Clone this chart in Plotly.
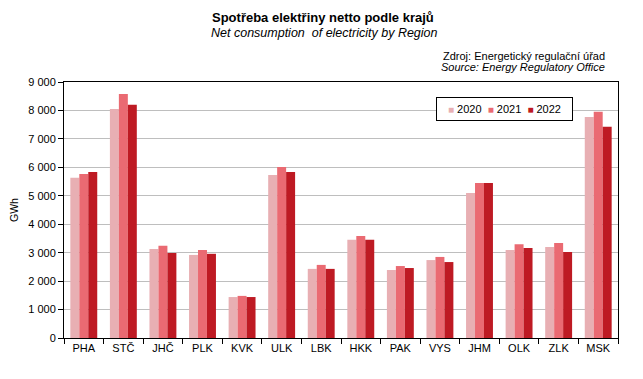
import plotly.graph_objects as go

regions = ["PHA", "STČ", "JHČ", "PLK", "KVK", "ULK", "LBK", "HKK", "PAK", "VYS", "JHM", "OLK", "ZLK", "MSK"]
v2020 = [5630, 8050, 3130, 2920, 1440, 5730, 2430, 3450, 2390, 2740, 5100, 3090, 3200, 7770]
v2021 = [5770, 8580, 3240, 3090, 1480, 6010, 2570, 3590, 2530, 2850, 5450, 3300, 3340, 7950]
v2022 = [5840, 8200, 2990, 2960, 1440, 5840, 2430, 3450, 2460, 2670, 5450, 3160, 3020, 7430]
years = ["2020", "2021", "2022"]
colors = ["#E8AFB3", "#EA6A72", "#BE1A23"]

FONT = "Liberation Sans, Arial, sans-serif"
OFF = 8  # default body margin of the page
W, H = 643 - OFF, 379 - OFF
L, T = 64 - OFF, 82 - OFF
R = W - (618 - OFF)
B = H - (338 - OFF)

fig = go.Figure()
for name, vals, c in zip(years, [v2020, v2021, v2022], colors):
    fig.add_trace(go.Bar(x=regions, y=vals, name=name, showlegend=False,
                         marker=dict(color=c, line=dict(width=0))))

fig.update_layout(
    width=W, height=H,
    margin=dict(l=L, r=R, t=T, b=B),
    paper_bgcolor="white", plot_bgcolor="white",
    font=dict(family=FONT, size=11, color="black"),
    barmode="group", bargap=0.32, bargroupgap=0,
    separators=", ",
    xaxis=dict(showline=True, linecolor="black", linewidth=1, mirror=True,
               ticks="outside", tickson="boundaries", ticklen=5, tickcolor="black",
               tickfont=dict(size=11), automargin=False),
    yaxis=dict(range=[0, 9000], dtick=1000, tickformat=",d",
               showgrid=True, gridcolor="#BEBEBE", gridwidth=1,
               showline=True, linecolor="black", linewidth=1, mirror=True,
               ticks="outside", ticklen=5, tickcolor="black",
               tickfont=dict(size=11), automargin=False,
               title=dict(text="GWh", font=dict(size=10.5), standoff=8)),
)

def px2paper(x, y):
    x -= OFF
    y -= OFF
    return (x - L) / (W - L - R), 1 - (y - T) / (H - T - B)

anns = [
    dict(text="<b>Spotřeba elektřiny netto podle krajů</b>", x=323, y=17, size=13, anchor="center"),
    dict(text="<i>Net consumption  of electricity by Region</i>", x=324, y=33, size=12.5, anchor="center"),
    dict(text="Zdroj: Energetický regulační úřad", x=607, y=56, size=11, anchor="right"),
    dict(text="<i>Source: Energy Regulatory Office</i>", x=607, y=67, size=11, anchor="right"),
]
for a in anns:
    px, py = px2paper(a["x"], a["y"])
    fig.add_annotation(text=a["text"], x=px, y=py, xref="paper", yref="paper",
                       xanchor=a["anchor"], yanchor="middle", showarrow=False,
                       font=dict(size=a["size"], family=FONT))

# legend box
legend_text = "&nbsp;&nbsp;".join(
    f"<span style='color:{c};font-size:10px'>■</span> {y}" for y, c in zip(years, colors))
lx, ly = px2paper(504, 109)
fig.add_annotation(text=legend_text, x=lx, y=ly, xref="paper", yref="paper",
                   xanchor="center", yanchor="middle", showarrow=False,
                   bordercolor="black", borderwidth=1, borderpad=4, bgcolor="white",
                   width=127, height=14,
                   font=dict(size=11, family=FONT))

fig.write_html("out.html")
